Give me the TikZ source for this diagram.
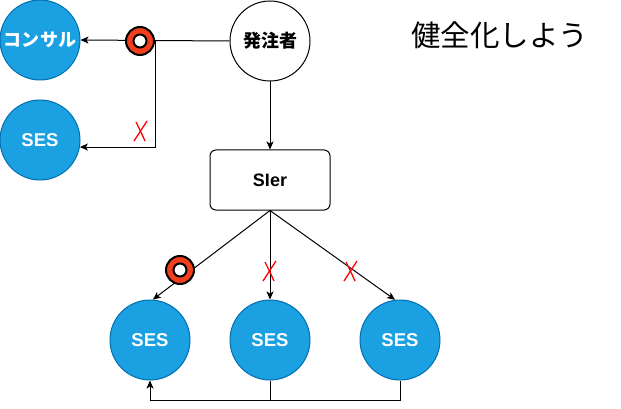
\documentclass[tikz,border=0pt]{standalone}
\usepackage{fontspec}
\setmainfont{Liberation Sans}
\newfontfamily\cjk{Noto Sans CJK JP}
\usetikzlibrary{arrows.meta,calc}
\definecolor{sesblue}{HTML}{1BA1E2}
\definecolor{sesborder}{HTML}{006EAF}
\definecolor{okred}{HTML}{F03E1E}
\begin{document}
\begin{tikzpicture}[x=1pt,y=-1pt,
  bluec/.style={circle, fill=sesblue, draw=sesborder, line width=1pt, minimum size=80pt, inner sep=0pt, text=white, font=\bfseries\fontsize{18.5}{18.5}\selectfont},
  whitec/.style={circle, draw=black, fill=white, line width=1pt, minimum size=80pt, inner sep=0pt, font=\cjk\bfseries\fontsize{18}{18}\selectfont},
  sierbox/.style={rectangle, rounded corners=6pt, draw=black, fill=white, line width=1pt, minimum width=120pt, minimum height=60pt, font=\bfseries\fontsize{18}{18}\selectfont},
  okmark/.style={circle, fill=okred, draw=black, line width=2pt, minimum size=28pt, inner sep=0pt,
    path picture={\draw[black, fill=white, line width=2pt] (path picture bounding box.center) circle (6.5pt);}},
  arr/.style={-{Stealth[length=8pt,width=7pt,inset=2pt]}, line width=1pt},
  xstroke/.style={red, line width=1.3pt},
  pics/xmark/.style={code={
    \draw[xstroke] (-6,10) -- (7,-10);
    \draw[xstroke] (-4,-9) .. controls (0,-1) .. (5,10);
  }}
]
\useasboundingbox (0,0) rectangle (621,409);

\node[bluec, font=\cjk\bfseries\fontsize{18}{18}\selectfont] (consul) at (40,40) {コンサル};
\node[bluec] (sesA) at (40,140) {SES};
\node[whitec] (order) at (270,41) {発注者};
\node[sierbox] (sier) at (270,180) {SIer};
\node[bluec] (ses1) at (150,340) {SES};
\node[bluec] (ses2) at (270,340) {SES};
\node[bluec] (ses3) at (400,340) {SES};
\node[font=\cjk\fontsize{29.5}{29.5}\selectfont, anchor=west, inner sep=0pt] (title) at (411,35) {健全化しよう};

\coordinate (split) at (155,41);
\draw[arr] (order.west) -- (consul.east);
\draw[arr] (split) |- (sesA.-10);
\node[okmark] (ok1) at (140,41) {};
\pic at (140,131) {xmark};

\draw[arr] (order.south) -- (sier.north);
\draw[arr] (sier.south) -- (ses1.86);
\draw[arr] (sier.south) -- (ses2.north);
\draw[arr] (sier.south) -- (ses3.97);
\node[okmark] (ok2) at (180,270) {};
\pic at (269,271) {xmark};
\pic at (350,271) {xmark};

\coordinate (bj) at (270,400);
\draw[arr] (ses2.south) -- (bj) -| (ses1.south);
\draw[line width=1pt] (ses3.south) |- (bj);
\end{tikzpicture}
\end{document}
